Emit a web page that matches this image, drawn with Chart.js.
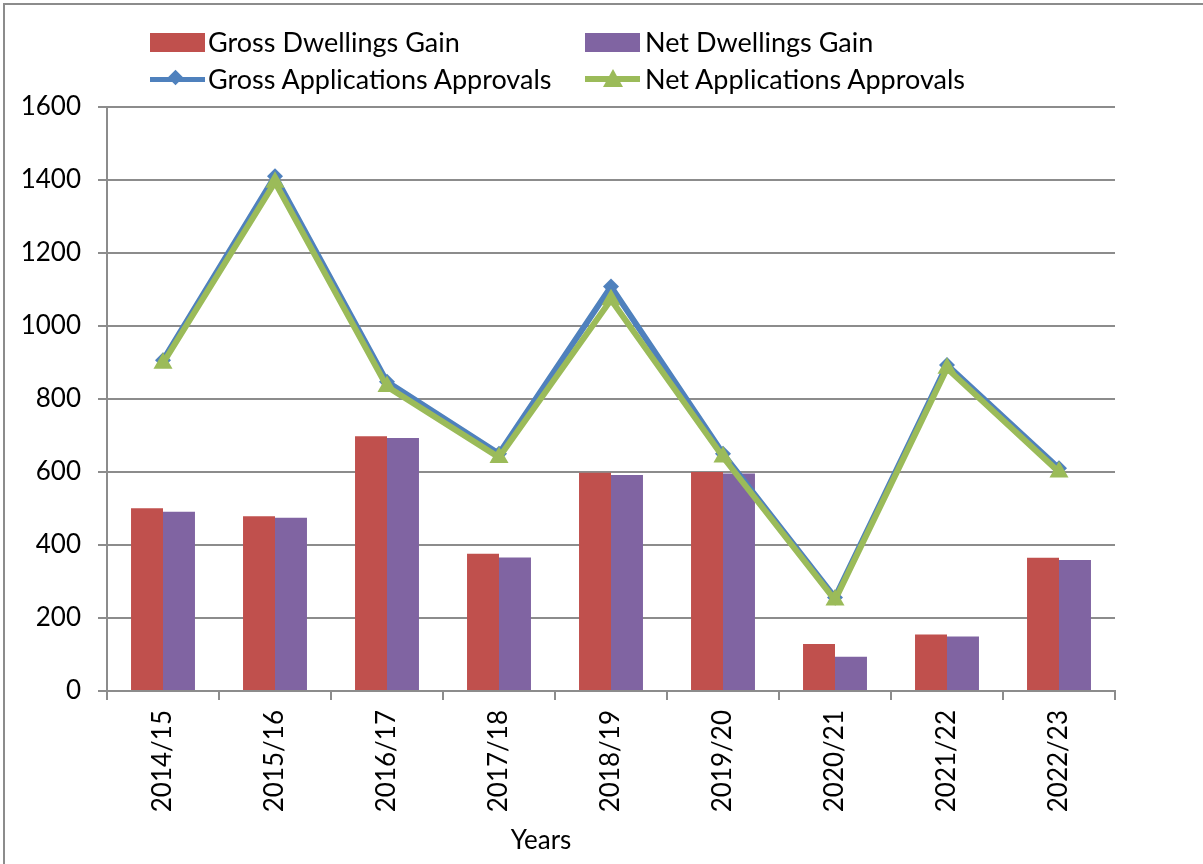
<!DOCTYPE html>
<html>
<head>
<meta charset="utf-8">
<script src="https://cdn.jsdelivr.net/npm/chart.js@4.4.0/dist/chart.umd.min.js"></script>
<style>
  html, body { margin: 0; padding: 0; background: #fff; }
  body { width: 1203px; height: 864px; position: relative; overflow: hidden; font-family: Lato, 'Open Sans', sans-serif; }
  #frame { position: absolute; left: 3px; top: 3px; width: 1300px; height: 1000px; border: 2px solid #8c8c8c; box-sizing: border-box; }
  #wrap { position: absolute; left: 0; top: 0; width: 1203px; height: 864px; }
  .leg { position: absolute; font-size: 27px; color: #000; line-height: 30px; white-space: nowrap; }
  .sw { position: absolute; }
  #xtitle { position: absolute; left: 441px; width: 200px; top: 823px; text-align: center; font-size: 26px; }
</style>
</head>
<body>
<div id="frame"></div>
<div id="wrap"><canvas id="chart" width="1203" height="864"></canvas></div>

<!-- legenda em html, duas colunas -->
<div class="sw" style="left:150px;top:33px;width:55px;height:19px;background:#C0504D"></div>
<div class="leg" style="left:208px;top:27px">Gross Dwellings Gain</div>
<div class="sw" style="left:585px;top:33px;width:55px;height:19px;background:#8064A2"></div>
<div class="leg" style="left:645px;top:27px">Net Dwellings Gain</div>

<div class="sw" style="left:150px;top:77px;width:55px;height:5px;background:#4F81BD"></div>
<div class="sw" style="left:170px;top:72px;width:11px;height:11px;background:#4F81BD;transform:rotate(45deg)"></div>
<div class="leg" style="left:208px;top:64px">Gross Applications Approvals</div>
<div class="sw" style="left:585px;top:76px;width:55px;height:6px;background:#9BBB59"></div>
<div class="sw" style="left:603px;top:69px;width:0;height:0;border-left:10px solid transparent;border-right:10px solid transparent;border-bottom:18px solid #9BBB59"></div>
<div class="leg" style="left:645px;top:64px">Net Applications Approvals</div>

<div id="xtitle">Years</div>

<script>
const years = ['2014/15', '2015/16', '2016/17', '2017/18', '2018/19', '2019/20', '2020/21', '2021/22', '2022/23'];
const grossDwellings = [501, 479, 698, 376, 598, 600, 129, 155, 365];
const netDwellings = [491, 475, 693, 366, 592, 596, 94, 149, 359];
const grossApprovals = [906, 1410, 847, 650, 1108, 650, 256, 893, 610];
const netApprovals = [898, 1394, 834, 640, 1072, 641, 249, 884, 600];
const yTicks = [0, 200, 400, 600, 800, 1000, 1200, 1400, 1600];

const gridColor = '#8c8c8c';

new Chart(document.getElementById('chart').getContext('2d'), {
    type: 'bar',
    data: {
        labels: years,
        datasets: [
            {
                type: 'line',
                label: 'Net Applications Approvals',
                data: netApprovals,
                borderColor: '#9BBB59',
                backgroundColor: '#9BBB59',
                borderWidth: 6,
                pointStyle: 'triangle',
                pointRadius: 11,
                pointBorderWidth: 0,
                tension: 0,
                order: 0
            },
            {
                type: 'line',
                label: 'Gross Applications Approvals',
                data: grossApprovals,
                borderColor: '#4F81BD',
                backgroundColor: '#4F81BD',
                borderWidth: 6,
                pointStyle: 'rectRot',
                pointRadius: 8,
                pointBorderWidth: 0,
                tension: 0,
                order: 1
            },
            {
                label: 'Gross Dwellings Gain',
                data: grossDwellings,
                backgroundColor: '#C0504D',
                borderWidth: 0,
                categoryPercentage: 0.571,
                barPercentage: 1,
                order: 2
            },
            {
                label: 'Net Dwellings Gain',
                data: netDwellings,
                backgroundColor: '#8064A2',
                borderWidth: 0,
                categoryPercentage: 0.571,
                barPercentage: 1,
                order: 2
            }
        ]
    },
    options: {
        responsive: false,
        animation: false,
        layout: { padding: { left: 0, top: 107, right: 88, bottom: 0 } },
        plugins: {
            legend: { display: false },
            tooltip: { enabled: false }
        },
        scales: {
            x: {
                offset: true,
                grid: {
                    offset: true,
                    drawOnChartArea: false,
                    drawTicks: true,
                    tickLength: 9,
                    color: gridColor,
                    lineWidth: 2
                },
                border: { color: gridColor, width: 2 },
                ticks: {
                    color: '#000',
                    font: { family: 'Lato', size: 26 },
                    minRotation: 90,
                    maxRotation: 90,
                    padding: 10
                },
                afterFit: function (scale) { scale.height = 173; }
            },
            y: {
                min: 0,
                max: 1600,
                afterBuildTicks: function (scale) {
                    scale.ticks = yTicks.map(v => ({ value: v }));
                },
                grid: {
                    color: gridColor,
                    lineWidth: 2,
                    drawTicks: true,
                    tickLength: 9
                },
                border: { color: gridColor, width: 2 },
                ticks: {
                    color: '#000',
                    font: { family: 'Lato', size: 26 },
                    padding: 17,
                    callback: function (value) { return String(value); }
                },
                afterFit: function (scale) { scale.width = 107; }
            }
        }
    }
});
</script>
</body>
</html>
